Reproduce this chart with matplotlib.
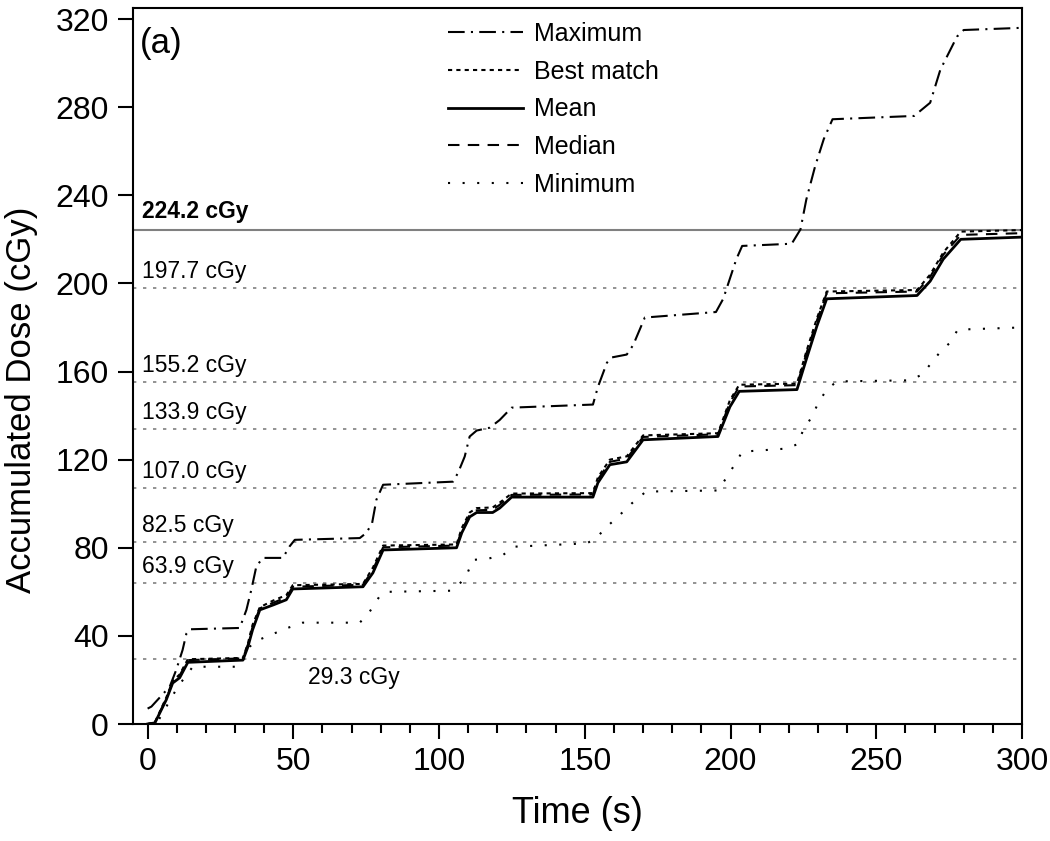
import matplotlib
matplotlib.use("Agg")
import matplotlib.pyplot as plt
from matplotlib.ticker import MultipleLocator

plt.rcParams['font.family'] = ['Liberation Sans', 'DejaVu Sans']

# dose levels marked with horizontal reference lines
ref_levels = [197.7, 155.2, 133.9, 107.0, 82.5, 63.9, 29.3]
top_level = 224.2

# Maximum (dash-dot)
t_max = [0, 1.3, 7.6, 9.8, 12, 13.3, 14.5, 31.6, 33.9, 35.6, 37.3, 39.5, 46.4, 48.7, 50.5,
         72.8, 75, 77, 78.5, 80.8, 104.8, 106.5, 108.8, 110.5, 112.9, 117.4, 120.8, 124.9,
         152.8, 154.5, 157.6, 159.3, 164.4, 166.6, 170.6, 195, 197.5, 202, 204, 221, 224,
         226, 229, 232, 235, 263, 268.5, 272, 277.7, 280, 300]
d_max = [7, 7.9, 17, 24.5, 33.6, 41, 43, 43.6, 51.8, 61, 71.5, 75.4, 75.4, 80.6, 83.6,
         84.4, 86.7, 91, 101.8, 108.6, 110, 114, 121.4, 130.5, 133.2, 134.5, 138, 143.6,
         145, 153, 164, 166.4, 167.7, 172, 184.5, 187, 193, 211, 217, 218, 224.5,
         238, 253, 265.5, 274.5, 276, 282, 297, 312, 315, 316]

# Mean / Median / Best match share the same time samples
t_c = [0, 2.5, 6.4, 8.6, 11, 13.8, 32.7, 34.4, 36, 38.5, 43, 47.6, 49.8, 73.9, 77.3, 80.8,
       106, 107.8, 110.5, 112.9, 118.4, 120.8, 124.9, 152.8, 154.5, 158.6, 164.4, 170,
       195.7, 199.8, 203, 222.8, 226, 229.6, 233, 264, 268.5, 273, 279, 300]
d_mean = [0, 0.5, 11, 18.6, 21, 28, 29, 35, 42.7, 51.8, 54, 56.4, 61.3, 62.3, 68.6, 79,
          80, 86.8, 94, 96, 96, 98, 103, 103, 109.5, 117.7, 119, 129,
          130.5, 144, 151, 151.8, 165.5, 180.5, 193, 194.5, 201, 211, 220, 221]
d_median = [0, 0.6, 11.5, 19, 22, 29, 29.8, 36, 44, 52.5, 55, 57.5, 62.3, 63.2, 70, 80.2,
            81, 88, 95, 97, 97.2, 99.5, 104, 104.2, 111, 119, 120.5, 130.3,
            131.5, 146, 153.2, 153.8, 168, 183, 195.5, 196.3, 203, 213, 222, 222.8]
d_best = [0, 0.8, 12, 19.5, 22.5, 29.4, 30, 36.5, 45, 53, 56, 58.5, 63, 63.6, 71, 81,
          81.5, 89, 96, 98, 98.3, 100.5, 104.6, 104.8, 112, 120, 121.5, 131,
          132, 147, 154, 154.5, 169, 184, 196.3, 197, 204, 214, 223.5, 224.2]

# Minimum (dotted)
t_min = [0, 3, 10.4, 15.5, 31.6, 35, 36.7, 43.6, 48, 53.2, 72.8, 76.2, 79.6, 82.4, 104,
         106.5, 109.5, 111.6, 116.7, 122, 126, 150.7, 154, 157.5, 161, 166, 171, 195.7,
         198.7, 202, 204, 219, 223, 225, 228, 230, 233, 236.5, 261.6, 265.7, 269, 272,
         275, 278, 300]
d_min = [0, 0, 17, 26, 26, 35, 37.4, 41.2, 43.6, 46, 46, 51, 58, 60, 60.5,
         62.7, 67.7, 74.5, 75, 76.8, 80.5, 82, 84.5, 89.5, 93.6, 100, 105.5, 106,
         112, 119, 123.6, 125, 127, 133.6, 139.6, 145.5, 151.8, 155.5, 156, 158.6, 164, 169,
         172.7, 179, 180]

fig = plt.figure(figsize=(10.5, 8.41), dpi=100)
ax = fig.add_axes([0.1267, 0.1391, 0.8466, 0.8514])

# reference lines
for v in ref_levels:
    ax.axhline(v, color='#808080', lw=1.2, linestyle=(0, (2, 4)), zorder=1)
ax.axhline(top_level, color='#808080', lw=1.5, zorder=1)

for v in ref_levels[:-1]:
    ax.text(-2, v + 7.5, f'{v:.1f} cGy', fontsize=16.5, va='center', ha='left')
ax.text(55, ref_levels[-1] - 8, f'{ref_levels[-1]:.1f} cGy', fontsize=16.5,
        va='center', ha='left')
ax.text(-2, top_level + 8.5, f'{top_level:.1f} cGy', fontsize=16.5, fontweight='bold',
        va='center', ha='left')

ax.plot(t_max, d_max, color='black', lw=1.5, linestyle=(0, (8, 3, 1, 3)), label='Maximum')
ax.plot(t_c, d_best, color='black', lw=1.5, linestyle=(0, (2, 2)), label='Best match')
ax.plot(t_c, d_mean, color='black', lw=2, linestyle='-', label='Mean')
ax.plot(t_c, d_median, color='black', lw=1.5, linestyle=(0, (5.5, 4)), label='Median')
ax.plot(t_min, d_min, color='black', lw=1.5, linestyle=(0, (1, 6)), label='Minimum')

ax.legend(loc='upper left', bbox_to_anchor=(0.34, 0.998), frameon=False, fontsize=18,
          handlelength=3.0, handletextpad=0.45, labelspacing=0.55, borderpad=0)

ax.text(-2.5, 309, '(a)', fontsize=25, va='center', ha='left')

ax.set_xlim(-5, 300)
ax.set_ylim(0, 325)
ax.xaxis.set_major_locator(MultipleLocator(50))
ax.xaxis.set_minor_locator(MultipleLocator(10))
ax.yaxis.set_major_locator(MultipleLocator(40))
ax.tick_params(axis='both', which='major', direction='out', length=10.5, width=1.5, labelsize=23)
ax.tick_params(axis='y', which='major', pad=7)
ax.tick_params(axis='x', which='major', pad=6)
ax.tick_params(axis='x', which='minor', direction='out', length=6.5, width=1.5)
for s in ax.spines.values():
    s.set_linewidth(1.5)

ax.set_xlabel('Time (s)', fontsize=26, labelpad=14)
ax.set_ylabel('Accumulated Dose (cGy)', fontsize=25)
ax.yaxis.set_label_coords(-0.107, 0.4525)

fig.savefig('out.png', dpi=100)
